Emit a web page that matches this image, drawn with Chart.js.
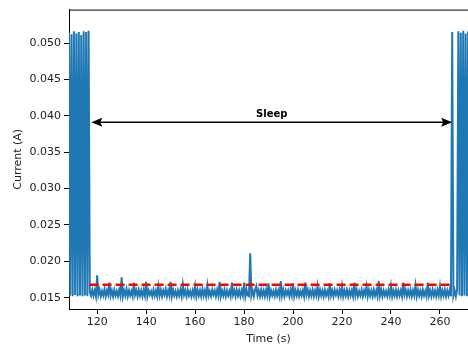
<!DOCTYPE html>
<html>
<head>
<meta charset="utf-8">
<script src="https://cdn.jsdelivr.net/npm/chart.js@4/dist/chart.umd.min.js"></script>
<style>
  html, body { margin: 0; padding: 0; background: #fff; }
  canvas { display: block; }
</style>
</head>
<body>
<canvas id="current-chart" width="468" height="349"></canvas>
<script>
// samples every 0.5 s starting at 108.5 s
const sampleStart = 108.5;
const sampleStep = 0.5;
const current = [
  0.0514, 0.0153, 0.0512, 0.0152, 0.0516, 0.0154, 0.0513, 0.0152, 0.0515, 0.0153,
  0.0511, 0.0152, 0.0516, 0.0153, 0.0515, 0.0152, 0.0517, 0.0158, 0.0153, 0.0161,
  0.0153, 0.0160, 0.0152, 0.0181, 0.0154, 0.0161, 0.0152, 0.0159, 0.0153, 0.0162,
  0.0152, 0.0160, 0.0154, 0.0171, 0.0153, 0.0160, 0.0152, 0.0161, 0.0153, 0.0159,
  0.0152, 0.0161, 0.0153, 0.0178, 0.0152, 0.0160, 0.0153, 0.0162, 0.0152, 0.0160,
  0.0153, 0.0159, 0.0152, 0.0171, 0.0154, 0.0160, 0.0152, 0.0161, 0.0153, 0.0160,
  0.0152, 0.0161, 0.0153, 0.0172, 0.0152, 0.0160, 0.0154, 0.0159, 0.0152, 0.0161,
  0.0153, 0.0160, 0.0152, 0.0166, 0.0153, 0.0161, 0.0152, 0.0160, 0.0154, 0.0162,
  0.0152, 0.0160, 0.0153, 0.0172, 0.0152, 0.0161, 0.0153, 0.0159, 0.0152, 0.0160,
  0.0153, 0.0161, 0.0152, 0.0168, 0.0154, 0.0160, 0.0152, 0.0161, 0.0153, 0.0159,
  0.0152, 0.0160, 0.0153, 0.0166, 0.0152, 0.0161, 0.0153, 0.0160, 0.0152, 0.0162,
  0.0153, 0.0160, 0.0152, 0.0167, 0.0153, 0.0159, 0.0152, 0.0161, 0.0154, 0.0160,
  0.0152, 0.0161, 0.0153, 0.0172, 0.0152, 0.0160, 0.0153, 0.0161, 0.0152, 0.0160,
  0.0153, 0.0159, 0.0152, 0.0171, 0.0154, 0.0160, 0.0152, 0.0161, 0.0153, 0.0160,
  0.0152, 0.0160, 0.0153, 0.0171, 0.0152, 0.0161, 0.0153, 0.0152, 0.0211, 0.0153,
  0.0160, 0.0152, 0.0161, 0.0166, 0.0153, 0.0160, 0.0152, 0.0161, 0.0153, 0.0160,
  0.0152, 0.0161, 0.0153, 0.0170, 0.0152, 0.0160, 0.0153, 0.0159, 0.0152, 0.0161,
  0.0153, 0.0160, 0.0152, 0.0173, 0.0153, 0.0161, 0.0152, 0.0160, 0.0154, 0.0160,
  0.0152, 0.0161, 0.0153, 0.0170, 0.0152, 0.0160, 0.0153, 0.0161, 0.0152, 0.0159,
  0.0153, 0.0160, 0.0152, 0.0171, 0.0154, 0.0161, 0.0152, 0.0160, 0.0153, 0.0161,
  0.0152, 0.0160, 0.0153, 0.0166, 0.0152, 0.0161, 0.0153, 0.0160, 0.0152, 0.0161,
  0.0153, 0.0159, 0.0152, 0.0170, 0.0153, 0.0160, 0.0152, 0.0161, 0.0154, 0.0160,
  0.0152, 0.0161, 0.0153, 0.0166, 0.0152, 0.0160, 0.0153, 0.0161, 0.0152, 0.0160,
  0.0153, 0.0160, 0.0152, 0.0171, 0.0153, 0.0161, 0.0152, 0.0159, 0.0153, 0.0161,
  0.0152, 0.0160, 0.0154, 0.0166, 0.0152, 0.0161, 0.0153, 0.0160, 0.0152, 0.0161,
  0.0153, 0.0160, 0.0152, 0.0173, 0.0153, 0.0161, 0.0152, 0.0160, 0.0153, 0.0159,
  0.0152, 0.0161, 0.0153, 0.0166, 0.0152, 0.0160, 0.0153, 0.0161, 0.0152, 0.0160,
  0.0153, 0.0160, 0.0152, 0.0171, 0.0154, 0.0161, 0.0152, 0.0160, 0.0153, 0.0161,
  0.0152, 0.0160, 0.0153, 0.0167, 0.0152, 0.0161, 0.0153, 0.0160, 0.0152, 0.0161,
  0.0153, 0.0159, 0.0152, 0.0171, 0.0153, 0.0160, 0.0152, 0.0161, 0.0153, 0.0160,
  0.0152, 0.0161, 0.0153, 0.0166, 0.0152, 0.0160, 0.0153, 0.0161, 0.0152, 0.0160,
  0.0153, 0.0161, 0.0152, 0.0515, 0.0153, 0.0160, 0.0152, 0.0161, 0.0516, 0.0153,
  0.0514, 0.0152, 0.0517, 0.0153, 0.0513, 0.0152, 0.0516, 0.0153
];

// red dashed reference level
const threshold = 0.0168;
const thresholdSpan = [116.9, 265.6];

// sleep annotation
const sleepSpan = [117.6, 265.0];
const sleepLevel = 0.0391;
const sleepLabel = 'Sleep';

const xTicks = [120, 140, 160, 180, 200, 220, 240, 260];
const yTicks = [0.015, 0.020, 0.025, 0.030, 0.035, 0.040, 0.045, 0.050];

Chart.defaults.font.family = "'DejaVu Sans', sans-serif";
Chart.defaults.font.size = 11;
Chart.defaults.color = '#222';

const currentPoints = current.map((v, i) => ({ x: sampleStart + i * sampleStep, y: v }));

// top spine (right spine falls outside the picture)
const framePlugin = {
  id: 'frame',
  afterDraw(chart) {
    const { ctx, chartArea: a } = chart;
    ctx.save();
    ctx.strokeStyle = '#000';
    ctx.lineWidth = 1;
    ctx.beginPath();
    ctx.moveTo(a.left, a.top + 0.5);
    ctx.lineTo(a.right, a.top + 0.5);
    ctx.stroke();
    ctx.restore();
  }
};

const sleepArrow = {
  id: 'sleepArrow',
  afterDatasetsDraw(chart) {
    const { ctx, scales: { x, y } } = chart;
    const x1 = x.getPixelForValue(sleepSpan[0]);
    const x2 = x.getPixelForValue(sleepSpan[1]);
    const py = y.getPixelForValue(sleepLevel);
    const head = 11, half = 4.5;
    ctx.save();
    ctx.strokeStyle = '#000';
    ctx.fillStyle = '#000';
    ctx.lineWidth = 1.5;
    ctx.beginPath();
    ctx.moveTo(x1 + 4, py);
    ctx.lineTo(x2 - 4, py);
    ctx.stroke();
    ctx.beginPath();
    ctx.moveTo(x1, py);
    ctx.lineTo(x1 + head, py - half);
    ctx.lineTo(x1 + head - 2, py);
    ctx.lineTo(x1 + head, py + half);
    ctx.closePath();
    ctx.fill();
    ctx.beginPath();
    ctx.moveTo(x2, py);
    ctx.lineTo(x2 - head, py - half);
    ctx.lineTo(x2 - head + 2, py);
    ctx.lineTo(x2 - head, py + half);
    ctx.closePath();
    ctx.fill();
    ctx.font = "bold 10px 'DejaVu Sans', sans-serif";
    ctx.textAlign = 'center';
    ctx.textBaseline = 'bottom';
    ctx.fillText(sleepLabel, (x1 + x2) / 2, py - 3);
    ctx.restore();
  }
};

new Chart(document.getElementById('current-chart'), {
  type: 'line',
  data: {
    datasets: [
      {
        label: 'threshold',
        data: [{ x: thresholdSpan[0], y: threshold }, { x: thresholdSpan[1], y: threshold }],
        borderColor: '#ff0000',
        borderWidth: 2.5,
        borderDash: [9, 4],
        pointRadius: 0,
        order: 0
      },
      {
        label: 'current',
        data: currentPoints,
        borderColor: '#1f77b4',
        borderWidth: 2,
        pointRadius: 0,
        tension: 0,
        order: 1
      }
    ]
  },
  options: {
    responsive: false,
    animation: false,
    events: [],
    layout: { padding: { top: 7, right: 0, bottom: 0, left: 0 } },
    plugins: { legend: { display: false }, tooltip: { enabled: false } },
    scales: {
      x: {
        type: 'linear',
        min: 108.5,
        max: 271.45,
        afterFit: s => { s.height = 40; },
        afterBuildTicks: s => { s.ticks = xTicks.map(v => ({ value: v })); },
        ticks: { padding: 2, callback: v => String(v) },
        grid: { display: true, drawOnChartArea: false, drawTicks: true, tickLength: 5, color: '#000' },
        border: { display: true, color: '#000', width: 1 },
        title: { display: true, text: 'Time (s)', padding: { top: 0, bottom: 3 } }
      },
      y: {
        min: 0.01346,
        max: 0.05459,
        afterFit: s => { s.width = 69; },
        afterBuildTicks: s => { s.ticks = yTicks.map(v => ({ value: v })); },
        ticks: { padding: 3, callback: v => v.toFixed(3) },
        grid: { display: true, drawOnChartArea: false, drawTicks: true, tickLength: 5, color: '#000' },
        border: { display: true, color: '#000', width: 1 },
        title: { display: true, text: 'Current (A)', padding: { top: 11.4, bottom: 0 } }
      }
    }
  },
  plugins: [framePlugin, sleepArrow]
});
</script>
</body>
</html>
